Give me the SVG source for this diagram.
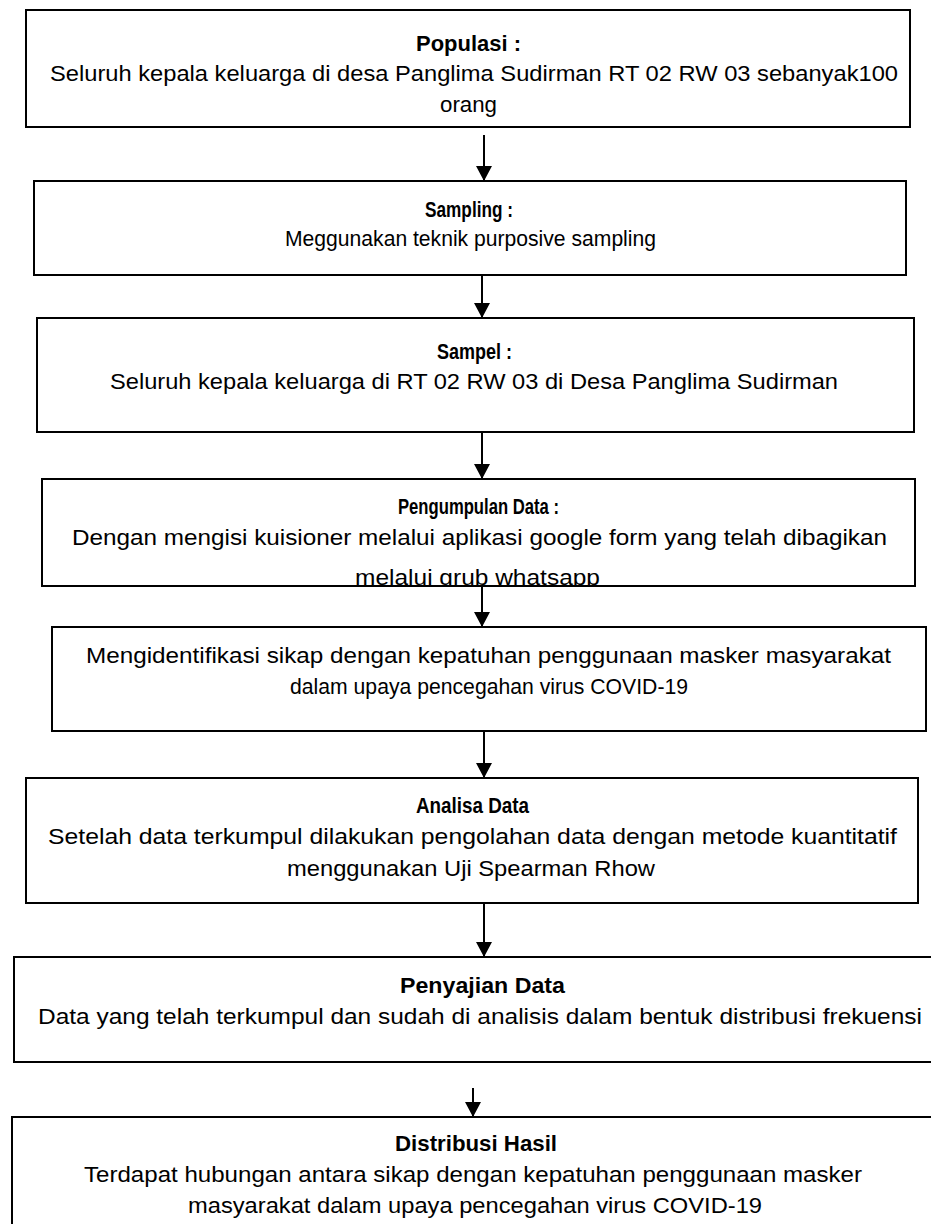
<svg xmlns="http://www.w3.org/2000/svg" width="931" height="1224" viewBox="0 0 931 1224">
<style>
.box{fill:#fff;stroke:#000;stroke-width:2}
.t{font-family:"Liberation Sans",Arial,sans-serif;font-size:22.5px;fill:#000;text-anchor:middle}
.b{font-weight:bold}
.c{stroke:#000;stroke-width:2;fill:none}
</style>
<defs>
<marker id="ah" viewBox="0 0 15 16" markerWidth="15" markerHeight="16" refX="15" refY="8" orient="auto" markerUnits="userSpaceOnUse">
<path d="M0,0 L15,8 L0,16 z" fill="#000"/>
</marker>
<clipPath id="clip4"><rect x="43" y="480" width="871" height="105"/></clipPath>
</defs>
<rect width="931" height="1224" fill="#fff"/>
<g id="connectors">
<line class="c" x1="484" y1="135" x2="484" y2="181" marker-end="url(#ah)"/>
<line class="c" x1="482" y1="275" x2="482" y2="318" marker-end="url(#ah)"/>
<line class="c" x1="482" y1="432" x2="482" y2="479" marker-end="url(#ah)"/>
<line class="c" x1="482" y1="587" x2="482" y2="627" marker-end="url(#ah)"/>
<line class="c" x1="484" y1="731" x2="484" y2="778" marker-end="url(#ah)"/>
<line class="c" x1="484" y1="903" x2="484" y2="957" marker-end="url(#ah)"/>
<line class="c" x1="473" y1="1088" x2="473" y2="1117" marker-end="url(#ah)"/>
</g>
<g id="populasi">
<rect class="box" x="26" y="10" width="884" height="117"/>
<text class="t b" x="468.5" y="51" textLength="105" lengthAdjust="spacingAndGlyphs">Populasi :</text>
<text class="t" x="474" y="81" textLength="848" lengthAdjust="spacingAndGlyphs">Seluruh kepala keluarga di desa Panglima Sudirman RT 02 RW 03 sebanyak100</text>
<text class="t" x="468.5" y="112" textLength="57" lengthAdjust="spacingAndGlyphs">orang</text>
</g>
<g id="sampling">
<rect class="box" x="34" y="181" width="872" height="94"/>
<text class="t b" x="469" y="217" textLength="88" lengthAdjust="spacingAndGlyphs">Sampling :</text>
<text class="t" x="470.5" y="246" textLength="371" lengthAdjust="spacingAndGlyphs">Meggunakan teknik purposive sampling</text>
</g>
<g id="sampel">
<rect class="box" x="37" y="318" width="877" height="114"/>
<text class="t b" x="474.5" y="359" textLength="75" lengthAdjust="spacingAndGlyphs">Sampel :</text>
<text class="t" x="474" y="389" textLength="728" lengthAdjust="spacingAndGlyphs">Seluruh kepala keluarga di RT 02 RW 03 di Desa Panglima Sudirman</text>
</g>
<g id="pengumpulan">
<rect class="box" x="42" y="479" width="873" height="107"/>
<g clip-path="url(#clip4)">
<text class="t b" x="478.5" y="514" textLength="161" lengthAdjust="spacingAndGlyphs">Pengumpulan Data :</text>
<text class="t" x="479.5" y="545" textLength="815" lengthAdjust="spacingAndGlyphs">Dengan mengisi kuisioner melalui aplikasi google form yang telah dibagikan</text>
<text class="t" x="477.5" y="585" textLength="245" lengthAdjust="spacingAndGlyphs">melalui grub whatsapp</text>
</g>
</g>
<g id="identifikasi">
<rect class="box" x="52" y="627" width="874" height="104"/>
<text class="t" x="488.5" y="663" textLength="805" lengthAdjust="spacingAndGlyphs">Mengidentifikasi sikap dengan kepatuhan penggunaan masker masyarakat</text>
<text class="t" x="489" y="694" textLength="398" lengthAdjust="spacingAndGlyphs">dalam upaya pencegahan virus COVID-19</text>
</g>
<g id="analisa">
<rect class="box" x="26" y="778" width="892" height="125"/>
<text class="t b" x="472.5" y="813" textLength="113" lengthAdjust="spacingAndGlyphs">Analisa Data</text>
<text class="t" x="472.5" y="844" textLength="849" lengthAdjust="spacingAndGlyphs">Setelah data terkumpul dilakukan pengolahan data dengan metode kuantitatif</text>
<text class="t" x="471" y="876" textLength="368" lengthAdjust="spacingAndGlyphs">menggunakan Uji Spearman Rhow</text>
</g>
<g id="penyajian">
<rect class="box" x="14" y="957" width="940" height="105"/>
<text class="t b" x="482.5" y="993" textLength="165" lengthAdjust="spacingAndGlyphs">Penyajian Data</text>
<text class="t" x="480" y="1024" textLength="884" lengthAdjust="spacingAndGlyphs">Data yang telah terkumpul dan sudah di analisis dalam bentuk distribusi frekuensi</text>
</g>
<g id="distribusi">
<rect class="box" x="12" y="1117" width="940" height="140"/>
<text class="t b" x="476" y="1151" textLength="162" lengthAdjust="spacingAndGlyphs">Distribusi Hasil</text>
<text class="t" x="473" y="1182" textLength="778" lengthAdjust="spacingAndGlyphs">Terdapat hubungan antara sikap dengan kepatuhan penggunaan masker</text>
<text class="t" x="475" y="1213" textLength="574" lengthAdjust="spacingAndGlyphs">masyarakat dalam upaya pencegahan virus COVID-19</text>
</g>
</svg>
